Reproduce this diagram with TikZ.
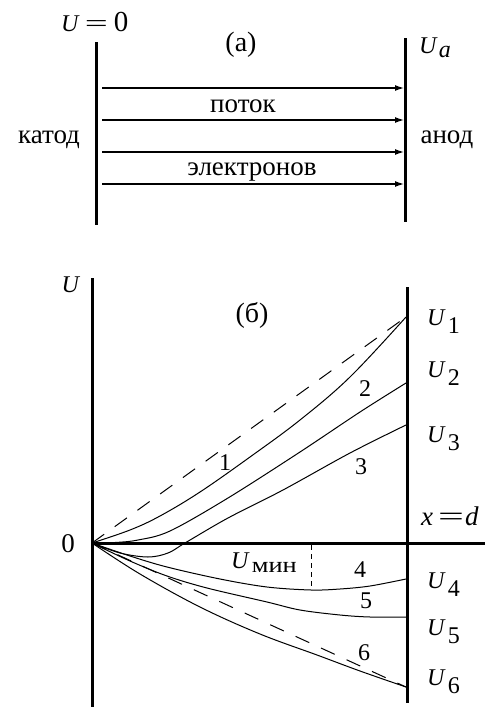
\documentclass[tikz,border=0pt]{standalone}
\usepackage{fontspec}
\usepackage{graphicx}
\setmainfont{Liberation Serif}
\usetikzlibrary{arrows.meta}
\newcommand\Ulab[1]{\textit{U}\kern2pt\raisebox{-8pt}{#1}}
\newcommand\wideeq{\scalebox{1.7}[1]{=}}
\begin{document}
\begin{tikzpicture}[x=1pt,y=-1pt,
  electrode/.style={line width=3pt},
  flow/.style={line width=1.3pt,-{Latex[length=9pt,width=6pt]}},
  curve/.style={line width=1pt},
  dashcurve/.style={line width=1pt,dash pattern=on 15pt off 13pt},
  minline/.style={line width=0.9pt,dash pattern=on 5pt off 4pt},
  word/.style={inner sep=0pt,font=\fontsize{27}{30}\selectfont},
  lbl/.style={inner sep=0pt,font=\fontsize{24}{28}\selectfont},
  paren/.style={inner sep=0pt,font=\fontsize{28}{30}\selectfont},
]
\useasboundingbox (0,0) rectangle (485,707);

% ---------- (a) ----------
\coordinate (ct) at (96,42);  \coordinate (cb) at (96,225);
\coordinate (at) at (405,38); \coordinate (ab) at (405,222);
\draw[electrode] (ct) -- (cb);
\draw[electrode] (at) -- (ab);
\foreach \yy [count=\i] in {88,120,152,184}{
  \coordinate (s\i) at (102,\yy);
  \coordinate (e\i) at (404,\yy);
  \draw[flow] (s\i) -- (e\i);
}
\node[lbl,anchor=base west] (u0) at (61,31) {\textit{U}\kern5pt\wideeq\kern6pt{\fontsize{29}{30}\selectfont 0}};
\node[paren] (pa) at (241,45) {(а)};
\node[lbl,anchor=base west] (ua) at (419,53) {\textit{U}\kern1pt\raisebox{-4pt}{\textit{a}}};
\node[word,anchor=base] (potok) at (243,112) {поток};
\node[word,anchor=base] (elec) at (252,175) {электронов};
\node[word,anchor=base] (katod) at (49,143) {катод};
\node[word,anchor=base] (anod) at (447,143) {анод};

% ---------- (б) ----------
\coordinate (O) at (92,543);
\coordinate (yt) at (92,278);  \coordinate (yb) at (92,707);
\coordinate (rt) at (407,287); \coordinate (rb) at (407,703);
\coordinate (xr) at (485,543);
\draw[electrode] (yt) -- (yb);
\draw[electrode] (rt) -- (rb);
\draw[electrode] (O) -- (xr);

\coordinate (E1) at (406,317);
\coordinate (E2) at (406,383);
\coordinate (E3) at (406,425);
\coordinate (E4) at (406,579);
\coordinate (E5) at (406,617);
\coordinate (E6) at (406,687);

% dashed straight references
\draw[dashcurve] (O) -- (E1);
\draw[dashcurve] (O) -- (E6);

% curve 1
\draw[curve] plot[smooth,tension=0.6] coordinates
  {(92,543) (130,530) (160,516) (200,492) (250,457) (300,420) (350,377) (406,317)};
% curve 2
\draw[curve] plot[smooth,tension=0.55] coordinates
  {(92,543) (115,542.5) (138,540) (170,531) (228,498) (300,452) (360,412) (406,383)};
% curve 3
\draw[curve] plot[smooth,tension=0.55] coordinates
  {(92,543) (120,553) (148,557) (168,553) (185,543) (228,518) (283,490) (350,453) (406,425)};
% curve 4
\draw[curve] plot[smooth,tension=0.55] coordinates
  {(92,543) (130,556) (167,567) (220,579) (267,587) (311,590) (340,589) (370,586) (406,579)};
% curve 5
\draw[curve] plot[smooth,tension=0.55] coordinates
  {(92,543) (130,561) (167,576) (207,588) (267,602) (300,610) (340,615) (370,617) (406,617)};
% curve 6
\draw[curve] plot[smooth,tension=0.6] coordinates
  {(92,543) (140,574) (200,607) (260,634) (317,655) (360,671) (406,687)};

\coordinate (m1) at (311,545); \coordinate (m2) at (311,589);
\draw[minline] (m1) -- (m2);

\node[lbl,anchor=base] (uax) at (71,292) {\textit{U}};
\node[lbl,font=\fontsize{27}{28}\selectfont] (zero) at (68,544) {0};
\node[paren] (pb) at (252,315) {(б)};
\node[lbl,anchor=base west] (u1) at (427,325) {\Ulab{1}};
\node[lbl,anchor=base west] (u2) at (427,377) {\Ulab{2}};
\node[lbl,anchor=base west] (u3) at (427,442) {\Ulab{3}};
\node[lbl,anchor=base west,font=\fontsize{27}{28}\selectfont] (xd) at (421,525) {\textit{x}\kern5pt\wideeq\kern1pt\textit{d}};
\node[lbl,anchor=base west] (u4) at (427,588) {\Ulab{4}};
\node[lbl,anchor=base west] (u5) at (427,635) {\Ulab{5}};
\node[lbl,anchor=base west] (u6) at (427,685) {\Ulab{6}};
\node[lbl,anchor=base west] (umin) at (231,568) {\textit{U}\kern2pt\raisebox{-4pt}{\fontsize{22}{24}\selectfont\scalebox{1.2}[1]{мин}}};

\node[lbl] (n1) at (225,463) {1};
\node[lbl] (n2) at (365,389) {2};
\node[lbl] (n3) at (361,467) {3};
\node[lbl] (n4) at (360,570) {4};
\node[lbl] (n5) at (366,601) {5};
\node[lbl] (n6) at (364,653) {6};
\end{tikzpicture}
\end{document}
